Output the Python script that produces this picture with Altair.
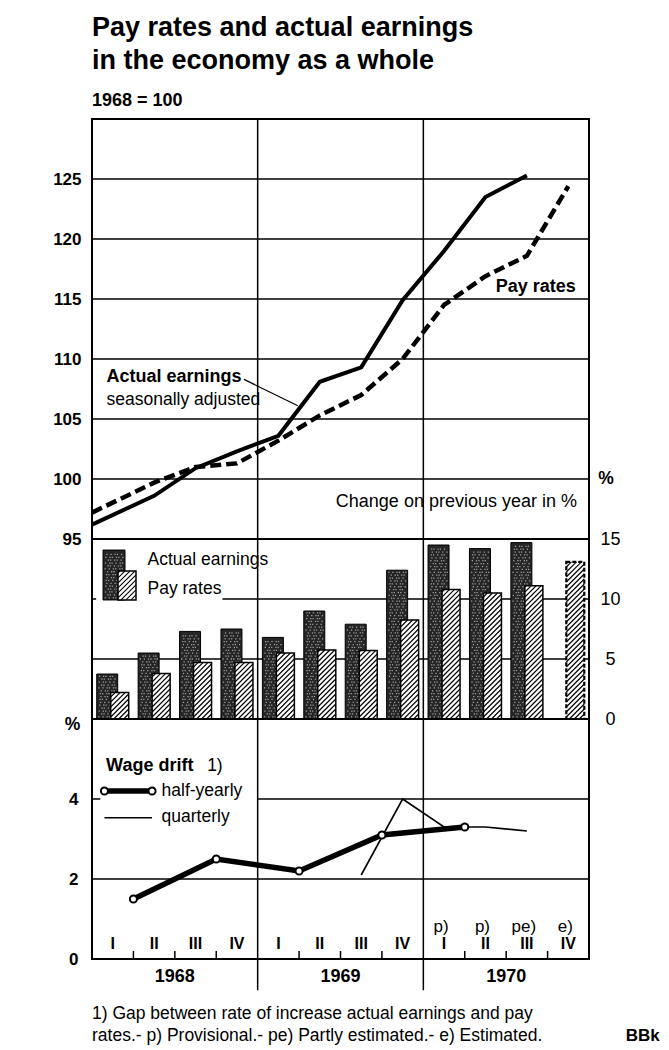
import altair as alt
import pandas as pd

# ---------------- data ----------------
quarter_labels = ["I", "II", "III", "IV"] * 3
year_labels = ["1968", "1969", "1970"]
status_labels = ["p)", "p)", "pe)", "e)"]
status_quarters = [8, 9, 10, 11]

# Index, 1968 = 100 (position measured in quarters from the start of 1968)
earn_pos = [0.0, 1.5, 2.5, 3.5, 4.5, 5.5, 6.5, 7.5, 8.5, 9.5, 10.5]
earn_val = [96.2, 98.6, 100.9, 102.3, 103.6, 108.1, 109.3, 114.9, 119.0, 123.5, 125.3]
pay_pos = [0.0, 1.5, 2.5, 3.5, 4.5, 5.5, 6.5, 7.5, 8.5, 9.5, 10.5, 11.5]
pay_val = [97.2, 99.7, 101.0, 101.3, 103.2, 105.3, 107.0, 110.0, 114.5, 116.9, 118.6, 124.4]

# Change on previous year in % (quarters 0..11)
earn_chg = [3.75, 5.5, 7.3, 7.5, 6.8, 9.0, 7.9, 12.4, 14.5, 14.2, 14.7]
pay_chg = [2.2, 3.8, 4.7, 4.7, 5.5, 5.75, 5.7, 8.25, 10.8, 10.5, 11.1, 13.1]

# Wage drift
half_pos = [1, 3, 5, 7, 9]
half_val = [1.5, 2.5, 2.2, 3.1, 3.3]
qtr_pos = [6.5, 7.5, 8.5, 9.5, 10.5]
qtr_val = [2.1, 4.0, 3.3, 3.3, 3.2]

# ---------------- layout ----------------
FONT = "Liberation Sans"
W = 497
H1, H2, H3 = 420, 180, 240
SX = W / 12.0          # px per quarter
SY2 = H2 / 15.0        # px per % point in bar panel

xs = alt.Scale(domain=[0, 12], nice=False, zero=False)
ys1 = alt.Scale(domain=[95, 130], nice=False, zero=False)
ys2 = alt.Scale(domain=[0, 15], nice=False, zero=False)
ys3 = alt.Scale(domain=[0, 6], nice=False, zero=False)

ax1 = alt.Axis(values=[95, 100, 105, 110, 115, 120, 125], ticks=False, domain=False,
               grid=False, labelPadding=11, labelFontSize=17, labelFontWeight="bold",
               labelColor="black", labelFont=FONT, title=None)
ax2 = alt.Axis(orient="right", values=[0, 5, 10, 15], ticks=False, domain=False, grid=False,
               labelPadding=21, labelAlign="center", labelFontSize=18, labelColor="black",
               labelFont=FONT, title=None)
ax3 = alt.Axis(values=[0, 2, 4], ticks=False, domain=False, grid=False, labelPadding=14,
               labelFontSize=17, labelFontWeight="bold", labelColor="black", labelFont=FONT,
               title=None)
AXES = {id(ys1): ax1, id(ys2): ax2, id(ys3): ax3}


def XQ(f):
    return alt.X(f, type="quantitative", scale=xs, axis=None)


def YQ(f, sc):
    return alt.Y(f, type="quantitative", scale=sc, axis=AXES[id(sc)])


def text_layer(df, sc, size=17, weight="normal", align="left", dx=0):
    return alt.Chart(df).mark_text(
        font=FONT, fontSize=size, fontWeight=weight, align=align,
        baseline="middle", color="black", dx=dx
    ).encode(x=XQ("x"), y=YQ("y", sc), text="t:N")


def hatch_layer(df, sc, step=5.0, n=70, sw=1.1):
    ch = alt.Chart(df).transform_calculate(k=f"sequence(0, {n})")
    ch = ch.transform_flatten(["k"])
    ch = ch.transform_calculate(Wp=f"(datum.xr - datum.xl) * {SX}")
    ch = ch.transform_calculate(Hp=f"(datum.y1 - datum.y0) * {SY2}")
    ch = ch.transform_calculate(c=f"datum.k * {step} - datum.Wp")
    ch = ch.transform_calculate(a="max(0, -datum.c)")
    ch = ch.transform_calculate(b="min(datum.Wp, datum.Hp - datum.c)")
    ch = ch.transform_filter("datum.a < datum.b - 0.3")
    ch = ch.transform_calculate(hx=f"datum.xl + datum.a / {SX}")
    ch = ch.transform_calculate(hy=f"datum.y0 + (datum.a + datum.c) / {SY2}")
    ch = ch.transform_calculate(hx2=f"datum.xl + datum.b / {SX}")
    ch = ch.transform_calculate(hy2=f"datum.y0 + (datum.b + datum.c) / {SY2}")
    return ch.mark_rule(color="black", strokeWidth=sw).encode(
        x=XQ("hx"), x2="hx2:Q", y=YQ("hy", sc), y2="hy2:Q"
    )


def stipple_layer(df, sc, step=3.4):
    ch = alt.Chart(df).transform_calculate(ci="sequence(0, 8)")
    ch = ch.transform_flatten(["ci"])
    ch = ch.transform_calculate(rj="sequence(0, 60)")
    ch = ch.transform_flatten(["rj"])
    ch = ch.transform_calculate(
        sx=f"datum.xl + (2.2 + datum.ci * {step} + (datum.rj % 2) * {step / 2} "
           f"+ ((datum.ci * 7 + datum.rj * 3) % 5) * 0.35) / {SX}")
    ch = ch.transform_calculate(sy=f"datum.y0 + (2.2 + datum.rj * {step * 0.85}) / {SY2}")
    ch = ch.transform_filter(f"datum.sx < datum.xr - 1.6 / {SX} && datum.sy < datum.y1 - 1.6 / {SY2}")
    return ch.mark_square(size=1.6, color="white", opacity=0.55).encode(
        x=XQ("sx"), y=YQ("sy", sc))


divs = pd.DataFrame({"x": [4, 8]})

# ---------------- panel 1: index ----------------
grid1 = alt.Chart(pd.DataFrame({"v": [100, 105, 110, 115, 120, 125]})).mark_rule(
    color="black", strokeWidth=1.5).encode(y=YQ("v", ys1))
div1 = alt.Chart(divs).mark_rule(color="black", strokeWidth=1.5).encode(x=XQ("x"))

df_earn = pd.DataFrame({"x": earn_pos, "y": earn_val})
df_pay = pd.DataFrame({"x": pay_pos, "y": pay_val})
line_earn = alt.Chart(df_earn).mark_line(color="black", strokeWidth=4).encode(
    x=XQ("x"), y=YQ("y", ys1))
line_pay = alt.Chart(df_pay).mark_line(color="black", strokeWidth=4.5, strokeDash=[11, 5]).encode(
    x=XQ("x"), y=YQ("y", ys1))

t1_bold = text_layer(pd.DataFrame({"x": [9.75, 0.35], "y": [116.0, 108.5],
                                   "t": ["Pay rates", "Actual earnings"]}), ys1, 18, "bold")
t1_reg = text_layer(pd.DataFrame({"x": [0.35], "y": [106.6], "t": ["seasonally adjusted"]}), ys1, 17.5)
t1_right = text_layer(pd.DataFrame({"x": [11.71], "y": [98.1],
                                    "t": ["Change on previous year in %"]}), ys1, 18, align="right")
t1_pct = text_layer(pd.DataFrame({"x": [12.41], "y": [100.0], "t": ["%"]}), ys1, 17.5, "bold", align="center")
leader = alt.Chart(pd.DataFrame({"x": [3.67], "y": [108.3], "x2": [4.97], "y2": [106.1]})).mark_rule(
    color="black", strokeWidth=1.2).encode(x=XQ("x"), y=YQ("y", ys1), x2="x2:Q", y2="y2:Q")

p1 = alt.layer(grid1, div1, line_pay, line_earn, leader, t1_bold, t1_reg, t1_right, t1_pct).properties(
    width=W, height=H1)

# ---------------- panel 2: bars ----------------
DK_L, DK_R = -16 / SX, 5 / SX
HT_L, HT_R = -2 / SX, 16 / SX
q_e = list(range(len(earn_chg)))
q_p = list(range(len(pay_chg)))
df_dark = pd.DataFrame({"xl": [q + 0.5 + DK_L for q in q_e], "xr": [q + 0.5 + DK_R for q in q_e],
                        "y0": [0.0] * len(q_e), "y1": earn_chg})
df_hat = pd.DataFrame({"xl": [q + 0.5 + HT_L for q in q_p], "xr": [q + 0.5 + HT_R for q in q_p],
                       "y0": [0.0] * len(q_p), "y1": pay_chg,
                       "est": [q == 11 for q in q_p]})

grid2 = alt.Chart(pd.DataFrame({"v": [5]})).mark_rule(color="black", strokeWidth=1.5).encode(
    y=YQ("v", ys2))
grid2b = alt.Chart(pd.DataFrame({"x": [3.15, 0.0], "x2": [12.0, 0.1], "y": [10, 10]})).mark_rule(
    color="black", strokeWidth=1.5).encode(x=XQ("x"), x2="x2:Q", y=YQ("y", ys2))
div2 = alt.Chart(divs).mark_rule(color="black", strokeWidth=1.5).encode(x=XQ("x"))


def rect(df, sc, **kw):
    return alt.Chart(df).mark_rect(**kw).encode(x=XQ("xl"), x2="xr:Q", y=YQ("y0", sc), y2="y1:Q")


# legend key (overlapping bar icon)
leg_dark = pd.DataFrame({"xl": [0.266], "xr": [0.797], "y0": [9.92], "y1": [14.08]})
leg_hat = pd.DataFrame({"xl": [0.628], "xr": [1.062], "y0": [9.92], "y1": [12.33]})

DARK = "#262626"
bars_dark = rect(df_dark, ys2, fill=DARK, stroke="black", strokeWidth=1)
bars_stip = stipple_layer(df_dark, ys2)
bars_hat_bg = rect(df_hat, ys2, fill="white")
bars_hatch = hatch_layer(df_hat, ys2)
bars_hat_ol = rect(df_hat[~df_hat["est"]], ys2, filled=False, stroke="black", strokeWidth=1.5)
bars_hat_est = rect(df_hat[df_hat["est"]], ys2, filled=False, stroke="black", strokeWidth=2.2,
                    strokeDash=[4, 2])
leg_d = rect(leg_dark, ys2, fill=DARK, stroke="black", strokeWidth=1)
leg_ds = stipple_layer(leg_dark, ys2)
leg_hbg = rect(leg_hat, ys2, fill="white")
leg_hh = hatch_layer(leg_hat, ys2)
leg_hol = rect(leg_hat, ys2, filled=False, stroke="black", strokeWidth=1.5)
t2 = text_layer(pd.DataFrame({"x": [1.34, 1.34], "y": [13.25, 10.83],
                              "t": ["Actual earnings", "Pay rates"]}), ys2, 17.5)

p2 = alt.layer(grid2, grid2b, div2, bars_dark, bars_stip, bars_hat_bg, bars_hatch, bars_hat_ol,
               bars_hat_est, leg_d, leg_ds, leg_hbg, leg_hh, leg_hol, t2).properties(width=W, height=H2)

# ---------------- panel 3: wage drift ----------------
grid3 = alt.Chart(pd.DataFrame({"v": [2]})).mark_rule(color="black", strokeWidth=1.5).encode(
    y=YQ("v", ys3))
grid3b = alt.Chart(pd.DataFrame({"x": [4.0, 0.0], "x2": [12.0, 0.2], "y": [4, 4]})).mark_rule(
    color="black", strokeWidth=1.5).encode(x=XQ("x"), x2="x2:Q", y=YQ("y", ys3))
div3 = alt.Chart(pd.DataFrame({"x": [4, 8], "ya": [-0.78, -0.78], "yb": [6, 6]})).mark_rule(
    color="black", strokeWidth=1.5).encode(x=XQ("x"), y=YQ("ya", ys3), y2="yb:Q")
qt = [q for q in range(1, 12) if q % 4 != 0]
qticks = alt.Chart(pd.DataFrame({"x": qt, "ya": [0] * len(qt), "yb": [0.2] * len(qt)})).mark_rule(
    color="black", strokeWidth=1.5).encode(x=XQ("x"), y=YQ("ya", ys3), y2="yb:Q")
qlab = text_layer(pd.DataFrame({"x": [q + 0.5 for q in range(12)], "y": [0.38] * 12,
                                "t": quarter_labels}), ys3, 16, "bold", align="center")
slab = text_layer(pd.DataFrame({"x": [q + 0.5 for q in status_quarters], "y": [0.8] * 4,
                                "t": status_labels}), ys3, 17, align="center", dx=-3)
ylab = text_layer(pd.DataFrame({"x": [2, 6, 10], "y": [-0.46] * 3, "t": year_labels}),
                  ys3, 18, "bold", align="center")

df_half = pd.DataFrame({"x": half_pos, "y": half_val})
df_qtr = pd.DataFrame({"x": qtr_pos, "y": qtr_val})
l_qtr = alt.Chart(df_qtr).mark_line(color="black", strokeWidth=1.6).encode(x=XQ("x"), y=YQ("y", ys3))
l_half = alt.Chart(df_half).mark_line(color="black", strokeWidth=5.5).encode(x=XQ("x"), y=YQ("y", ys3))
pt_half = alt.Chart(df_half).mark_point(shape="circle", filled=True, fill="white", stroke="black",
                                        strokeWidth=2, size=50, opacity=1).encode(
    x=XQ("x"), y=YQ("y", ys3))

# legend for wage drift
lg_half = pd.DataFrame({"x": [0.3, 1.45], "y": [4.2, 4.2]})
lg_qtr = pd.DataFrame({"x": [0.3, 1.45], "y": [3.53, 3.53]})
lg_l1 = alt.Chart(lg_half).mark_line(color="black", strokeWidth=5.5).encode(x=XQ("x"), y=YQ("y", ys3))
lg_p1 = alt.Chart(lg_half).mark_point(shape="circle", filled=True, fill="white", stroke="black",
                                      strokeWidth=2, size=50, opacity=1).encode(x=XQ("x"), y=YQ("y", ys3))
lg_l2 = alt.Chart(lg_qtr).mark_line(color="black", strokeWidth=1.6).encode(x=XQ("x"), y=YQ("y", ys3))
t3_bold = text_layer(pd.DataFrame({"x": [0.34], "y": [4.82], "t": ["Wage drift"]}), ys3, 18, "bold")
t3_reg = text_layer(pd.DataFrame({"x": [2.78, 1.68, 1.68], "y": [4.82, 4.2, 3.55],
                                  "t": ["1)", "half-yearly", "quarterly"]}), ys3, 17.5)
t3_pct = text_layer(pd.DataFrame({"x": [-0.47], "y": [5.85], "t": ["%"]}), ys3, 17.5, "bold", align="center")
foot = text_layer(pd.DataFrame({
    "x": [0.0, 0.0], "y": [-1.37, -1.92],
    "t": ["1) Gap between rate of increase actual earnings and pay",
          "rates.- p) Provisional.- pe) Partly estimated.- e) Estimated."]}), ys3, 17.5)
bbk = text_layer(pd.DataFrame({"x": [13.71], "y": [-1.92], "t": ["BBk"]}), ys3, 17, "bold", align="right")

p3 = alt.layer(grid3, grid3b, div3, qticks, qlab, slab, ylab, l_qtr, l_half, pt_half,
               lg_l1, lg_p1, lg_l2, t3_bold, t3_reg, t3_pct, foot, bbk).properties(width=W, height=H3)

chart = alt.vconcat(p1, p2, p3, spacing=0, bounds="flush").properties(
    title=alt.TitleParams(
        text=["Pay rates and actual earnings", "in the economy as a whole"],
        subtitle="1968 = 100", anchor="start", frame="group", fontSize=27, fontWeight="bold",
        lineHeight=33, subtitleFontSize=18, subtitleFontWeight="bold", subtitlePadding=17,
        offset=6, color="black", subtitleColor="black", font=FONT, subtitleFont=FONT),
    padding={"left": 43, "top": 6, "right": 0, "bottom": 0},
).configure(
    font=FONT, background="white",
    view=alt.ViewConfig(stroke="black", strokeWidth=2),
)

chart.save("out.html", embed_options={"renderer": "svg", "actions": False})
